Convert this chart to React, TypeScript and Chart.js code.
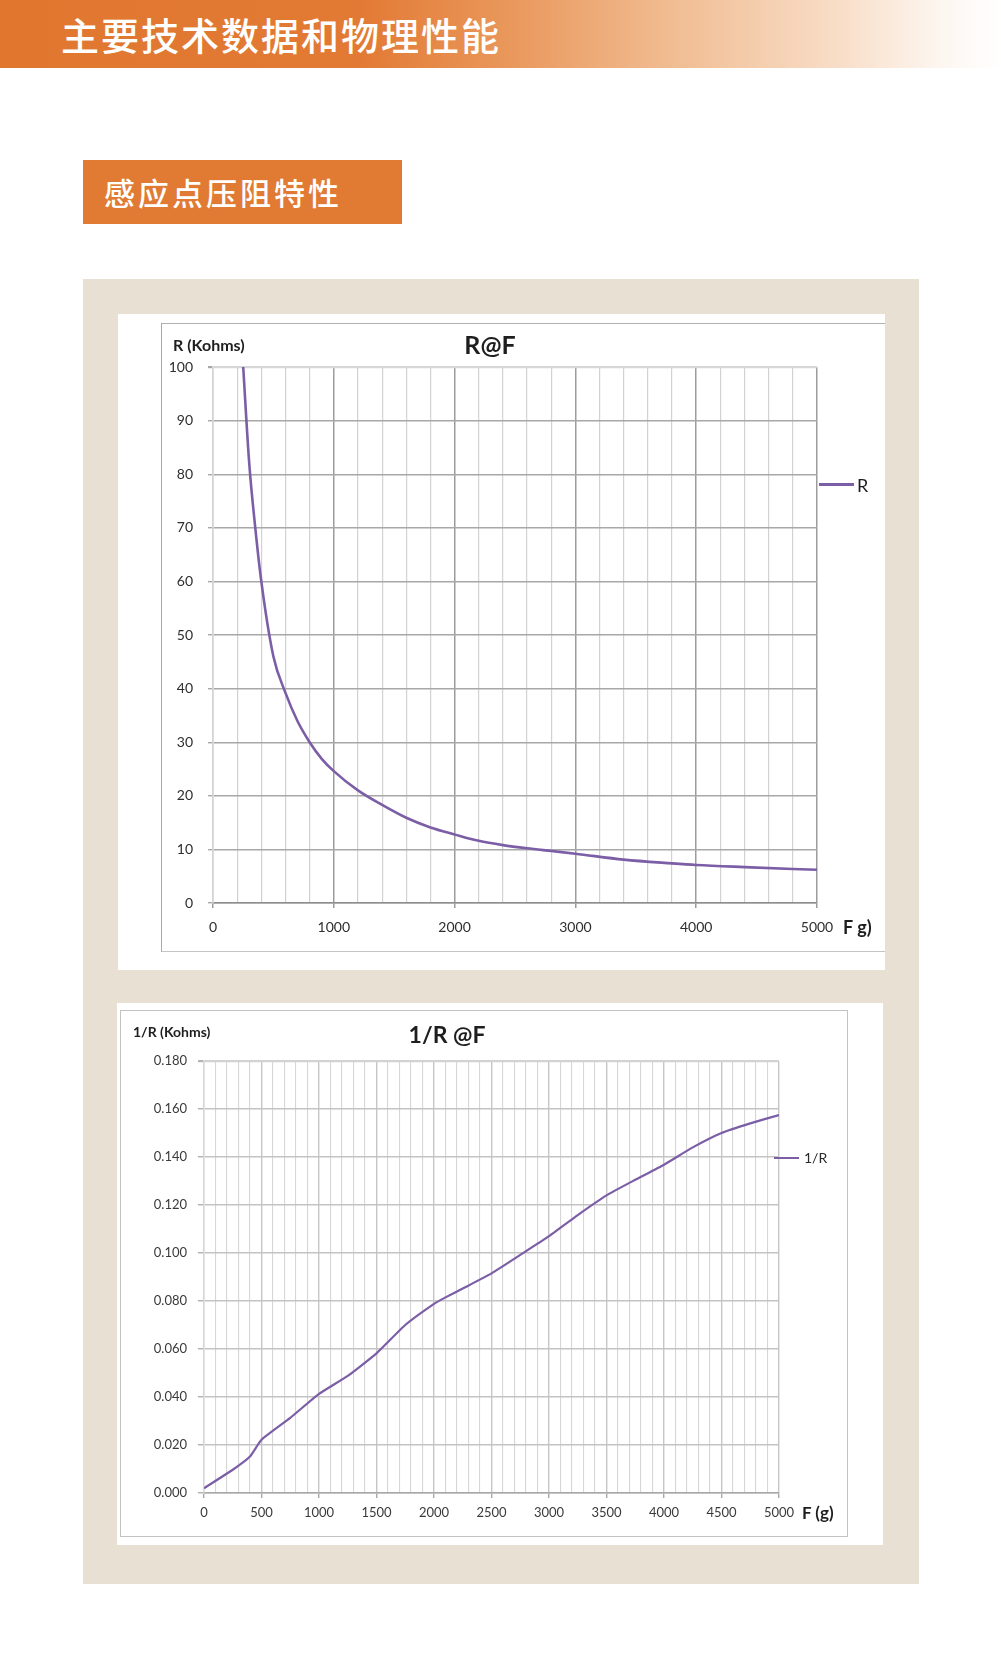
import React, { useEffect, useRef } from 'react';
import { Chart, registerables } from 'chart.js';

Chart.register(...registerables);

const PURPLE = '#7B5EA6';

// ---- Chart 1: R (Kohms) vs F (g) ----
const forceR = [250, 300, 350, 400, 500, 600, 700, 800, 900, 1000, 1200, 1400, 1600, 1800, 2000, 2200, 2400, 2600, 2800, 3000, 3400, 3800, 4000, 4400, 4800, 5000];
const resistance = [100, 82, 70, 60, 46, 39.2, 33.9, 30.0, 26.9, 24.6, 21.0, 18.3, 15.9, 14.1, 12.8, 11.6, 10.8, 10.2, 9.7, 9.2, 8.1, 7.4, 7.1, 6.7, 6.35, 6.2];
const xLabels1 = [0, 1000, 2000, 3000, 4000, 5000];

// ---- Chart 2: 1/R vs F (g) ----
const forceC = [0, 250, 400, 500, 750, 1000, 1250, 1500, 1750, 2000, 2100, 2250, 2500, 2750, 3000, 3250, 3500, 3750, 4000, 4250, 4500, 4750, 5000];
const conductance = [0.002, 0.0097, 0.0152, 0.0222, 0.0313, 0.0413, 0.0488, 0.0582, 0.07, 0.0788, 0.0815, 0.0852, 0.0915, 0.0992, 0.107, 0.1158, 0.124, 0.1305, 0.1368, 0.144, 0.15, 0.154, 0.1575];
const xLabels2 = [0, 500, 1000, 1500, 2000, 2500, 3000, 3500, 4000, 4500, 5000];

const FONT = 'Lato, "Liberation Sans", sans-serif';

function Label(props: { x: number; y: number; size: number; weight?: number; color?: string; center?: boolean; children: any }) {
  const { x, y, size, weight = 400, color = '#222', center = false, children } = props;
  return (
    <div
      style={{
        position: 'absolute',
        left: x,
        top: y - size,
        height: size * 2,
        lineHeight: `${size * 2}px`,
        fontSize: size,
        fontWeight: weight,
        color,
        fontFamily: FONT,
        whiteSpace: 'nowrap',
        transform: center ? 'translateX(-50%)' : undefined,
      }}
    >
      {children}
    </div>
  );
}

export default function App() {
  const ref1 = useRef<HTMLCanvasElement | null>(null);
  const ref2 = useRef<HTMLCanvasElement | null>(null);

  useEffect(() => {
    const c1 = new Chart(ref1.current as HTMLCanvasElement, {
      type: 'line',
      data: {
        datasets: [
          {
            label: 'R',
            data: forceR.map((f, i) => ({ x: f, y: resistance[i] })),
            borderColor: PURPLE,
            borderWidth: 2.6,
            pointRadius: 0,
            fill: false,
            cubicInterpolationMode: 'monotone',
          },
        ],
      },
      options: {
        animation: false,
        responsive: false,
        events: [],
        layout: { padding: { top: 43, right: 68, left: 0, bottom: 0 } },
        plugins: { legend: { display: false }, title: { display: false }, tooltip: { enabled: false } },
        scales: {
          x: {
            type: 'linear',
            min: 0,
            max: 5000,
            afterFit: (s: any) => {
              s.height = 48;
            },
            ticks: {
              stepSize: 200,
              autoSkip: false,
              maxRotation: 0,
              minRotation: 0,
              padding: 11,
              color: '#2E2E2E',
              font: { family: FONT, size: 14 },
              callback: (v: any) => (xLabels1.includes(Number(v)) ? String(v) : ''),
            },
            grid: {
              color: (ctx: any) => {
                const v = ctx.tick ? ctx.tick.value : 0;
                if (v === 0) return '#D4D4D4';
                return v % 1000 === 0 ? '#9C9C9C' : '#D2D2D2';
              },
              lineWidth: (ctx: any) => {
                const v = ctx.tick ? ctx.tick.value : 0;
                return v % 1000 === 0 ? 1.5 : 1.2;
              },
              tickLength: 5,
              tickColor: (ctx: any) => {
                const v = ctx.tick ? ctx.tick.value : 0;
                return v % 1000 === 0 ? '#9C9C9C' : 'rgba(0,0,0,0)';
              },
            },
            border: { display: true, color: '#8E8E8E', width: 1.6 },
          },
          y: {
            min: 0,
            max: 100,
            afterFit: (s: any) => {
              s.width = 51;
            },
            ticks: {
              stepSize: 10,
              padding: 15,
              color: '#2E2E2E',
              font: { family: FONT, size: 14 },
            },
            grid: {
              color: (ctx: any) => {
                const v = ctx.tick ? ctx.tick.value : 0;
                return v === 100 ? '#D6D6D6' : '#A8A8A8';
              },
              lineWidth: (ctx: any) => {
                const v = ctx.tick ? ctx.tick.value : 0;
                return v === 100 ? 2.2 : 1.4;
              },
              tickLength: 5,
              tickColor: '#A8A8A8',
            },
            border: { display: true, color: '#D4D4D4', width: 1.6 },
          },
        },
      },
    } as any);

    const c2 = new Chart(ref2.current as HTMLCanvasElement, {
      type: 'line',
      data: {
        datasets: [
          {
            label: '1/R',
            data: forceC.map((f, i) => ({ x: f, y: conductance[i] })),
            borderColor: PURPLE,
            borderWidth: 2.2,
            pointRadius: 0,
            fill: false,
            tension: 0.15,
          },
        ],
      },
      options: {
        animation: false,
        responsive: false,
        events: [],
        layout: { padding: { top: 50, right: 69, left: 0, bottom: 0 } },
        plugins: { legend: { display: false }, title: { display: false }, tooltip: { enabled: false } },
        scales: {
          x: {
            type: 'linear',
            min: 0,
            max: 5000,
            afterFit: (s: any) => {
              s.height = 44;
            },
            ticks: {
              stepSize: 100,
              autoSkip: false,
              maxRotation: 0,
              minRotation: 0,
              padding: 7,
              color: '#3A3A3A',
              font: { family: FONT, size: 13 },
              callback: (v: any) => (xLabels2.includes(Number(v)) ? String(v) : ''),
            },
            grid: {
              color: (ctx: any) => {
                const v = ctx.tick ? ctx.tick.value : 0;
                return v % 500 === 0 && v > 0 ? '#C6C6C6' : '#D6D6D6';
              },
              lineWidth: (ctx: any) => {
                const v = ctx.tick ? ctx.tick.value : 0;
                return v % 500 === 0 ? 1.4 : 1.1;
              },
              tickLength: 5,
              tickColor: (ctx: any) => {
                const v = ctx.tick ? ctx.tick.value : 0;
                return v % 500 === 0 ? '#A8A8A8' : 'rgba(0,0,0,0)';
              },
            },
            border: { display: true, color: '#A8A8A8', width: 1.4 },
          },
          y: {
            min: 0,
            max: 0.18,
            afterFit: (s: any) => {
              s.width = 83;
            },
            ticks: {
              stepSize: 0.02,
              padding: 11,
              color: '#3A3A3A',
              font: { family: FONT, size: 13 },
              callback: (v: any) => Number(v).toFixed(3),
            },
            grid: {
              color: (ctx: any) => {
                const v = ctx.tick ? ctx.tick.value : 0;
                return v > 0.179 ? '#D2D2D2' : '#C4C4C4';
              },
              lineWidth: (ctx: any) => {
                const v = ctx.tick ? ctx.tick.value : 0;
                return v > 0.179 ? 2.2 : 1.5;
              },
              tickLength: 6,
              tickColor: '#B4B4B4',
            },
            border: { display: true, color: '#D6D6D6', width: 1.4 },
          },
        },
      },
    } as any);

    return () => {
      c1.destroy();
      c2.destroy();
    };
  }, []);

  const cjk = '"Noto Sans CJK SC", sans-serif';

  return (
    <div style={{ position: 'absolute', left: 0, top: 0, width: 1001, height: 1679, background: '#FFFFFF', overflow: 'hidden' }}>
      {/* header bar */}
      <div
        style={{
          position: 'absolute',
          left: 0,
          top: 0,
          width: 1001,
          height: 68,
          background:
            'linear-gradient(90deg, #E1772F 0%, #E27A34 36%, #EA9A5F 52%, #F1BE95 68%, #F8DEC8 84%, #FDF6F0 94%, #FFFFFF 100%)',
        }}
      >
        <div
          style={{
            position: 'absolute',
            left: 61,
            top: 0,
            height: 68,
            lineHeight: '68px',
            fontFamily: cjk,
            fontSize: 38,
            fontWeight: 500,
            letterSpacing: 2,
            color: '#FFFFFF',
            whiteSpace: 'nowrap',
          }}
        >
          主要技术数据和物理性能
        </div>
      </div>

      {/* section tag */}
      <div style={{ position: 'absolute', left: 83, top: 160, width: 319, height: 64, background: '#E17A33' }}>
        <div
          style={{
            position: 'absolute',
            left: 21,
            top: 0,
            height: 64,
            lineHeight: '64px',
            fontFamily: cjk,
            fontSize: 31,
            fontWeight: 500,
            letterSpacing: 3,
            color: '#FFFFFF',
            whiteSpace: 'nowrap',
          }}
        >
          感应点压阻特性
        </div>
      </div>

      {/* beige panel */}
      <div style={{ position: 'absolute', left: 83, top: 279, width: 836, height: 1305, background: '#E8E0D3' }} />

      {/* chart 1 */}
      <div style={{ position: 'absolute', left: 118, top: 314, width: 767, height: 656, background: '#FFFFFF' }} />
      <div
        style={{
          position: 'absolute',
          left: 161,
          top: 323,
          width: 724,
          height: 629,
          boxSizing: 'border-box',
          borderLeft: '1.5px solid #A8A8A8',
          borderTop: '1.5px solid #B0B0B0',
          borderBottom: '1.5px solid #C4C4C4',
        }}
      />
      <canvas ref={ref1} width={723} height={627} style={{ position: 'absolute', left: 162, top: 324, width: 723, height: 627 }} />
      <Label x={173} y={345} size={16} weight={700} color="#1E1E1E">R (Kohms)</Label>
      <Label x={490} y={344} size={25} weight={700} color="#1E1E1E" center>R@F</Label>
      <div style={{ position: 'absolute', left: 819, top: 483, width: 35, height: 3, background: PURPLE }} />
      <Label x={857} y={485} size={18} color="#1E1E1E">R</Label>
      <Label x={843} y={927} size={18} weight={700} color="#1E1E1E">F g)</Label>

      {/* chart 2 */}
      <div style={{ position: 'absolute', left: 117, top: 1003, width: 766, height: 542, background: '#FFFFFF' }} />
      <div
        style={{
          position: 'absolute',
          left: 120,
          top: 1010,
          width: 728,
          height: 527,
          boxSizing: 'border-box',
          border: '1.5px solid #C2C2C2',
        }}
      />
      <canvas ref={ref2} width={727} height={526} style={{ position: 'absolute', left: 121, top: 1011, width: 727, height: 526 }} />
      <Label x={133} y={1032} size={14} weight={700} color="#1E1E1E">1/R (Kohms)</Label>
      <Label x={447} y={1034} size={23} weight={700} color="#1E1E1E" center>1/R @F</Label>
      <div style={{ position: 'absolute', left: 774, top: 1157, width: 25, height: 2, background: PURPLE }} />
      <Label x={804} y={1158} size={14} color="#2A2A2A">1/R</Label>
      <Label x={802} y={1513} size={17} weight={700} color="#1E1E1E">F (g)</Label>
    </div>
  );
}
